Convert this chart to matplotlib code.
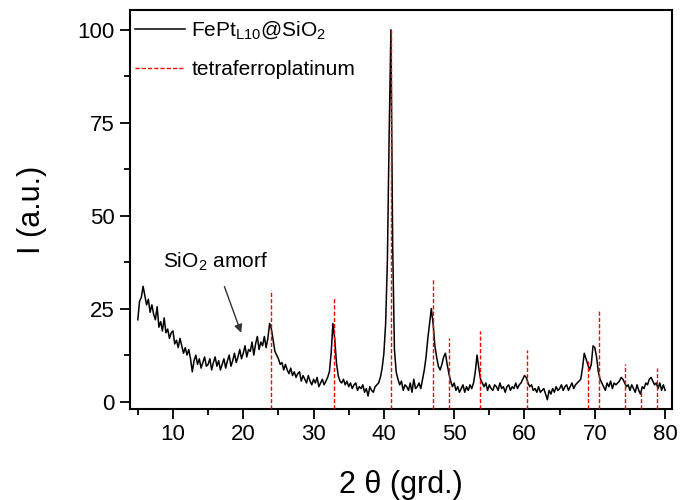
import matplotlib
matplotlib.use('Agg')
import numpy as np
import matplotlib.pyplot as plt

plt.rcParams['font.family'] = ['Liberation Sans', 'DejaVu Sans']
plt.rcParams['mathtext.fontset'] = 'custom'
plt.rcParams['mathtext.rm'] = 'Liberation Sans'

# measured pattern, 2theta from 5 to 80 deg, step 0.25
intensity = [
    # 5.0 - 23.5
    22, 27, 28, 31, 28.5, 26, 27.5, 24, 26, 23.5, 22, 25.5, 20, 21.5, 19, 22.5, 18.5, 19.5, 17, 18.5,
    19, 15.5, 16.5, 14.5, 17, 15, 13, 14.5, 12.5, 14, 11.5, 8, 11, 12.5, 10, 11.5, 9, 10.5, 12, 9.5,
    10, 11.5, 8.5, 10.5, 12, 9.5, 11, 8.5, 10, 11.5, 9, 11, 12.5, 9.5, 11, 13, 10.5, 12, 14, 11.5,
    13, 15, 12, 14, 13.5, 16, 12.5, 15.5, 17.5, 14, 16, 15, 17.5, 14.5, 17,
    # 23.75 - 24.75
    21, 19.5, 16.5, 13.5, 12.5,
    # 25.0 - 32.0
    11.5, 10, 10.5, 8.5, 10, 8.5, 7.5, 9, 7, 8, 6.5, 7.5, 8, 5.5, 7, 6, 5, 7, 5.5, 4.5,
    6, 5, 6.5, 4, 5, 6, 4.5, 5.5, 6.5,
    # 32.25 - 33.75
    8, 13, 21, 17, 10.5, 7, 5.5,
    # 34.0 - 39.25
    5, 6, 4.5, 5.5, 4, 5, 3.5, 4.5, 5, 3, 4, 3.5, 4.5, 2.5, 3.5, 1.5, 4, 3, 2.5, 4, 4.5, 5,
    # 39.5 - 42.0
    6.5, 9, 13, 21, 38, 72, 100, 42, 14, 8, 6,
    # 42.25 - 45.25
    4.5, 5.5, 3, 4.5, 4, 3, 5, 2.5, 6, 3.5, 4, 5, 3.5,
    # 45.5 - 49.75
    6, 8.5, 12, 17, 21, 25, 21, 15, 12, 9.5, 8.5, 10, 12, 13, 10, 7.5, 5.5, 4,
    # 50.0 - 52.75
    5, 3, 4, 2.5, 3.5, 4.5, 2.5, 4, 3, 4.5, 3.5, 5,
    # 53.0 - 54.0
    8, 12.5, 9, 6, 5,
    # 54.25 - 59.5
    4, 5, 3, 4.5, 3.5, 3, 4.5, 4, 3, 5, 3.5, 4, 2.5, 4, 4.5, 3, 4, 3.5, 5, 3.5, 4.5, 5,
    # 59.75 - 60.75
    6, 7, 6.5, 5, 4,
    # 61.0 - 67.25
    4.5, 3, 3.5, 2.5, 4, 2.5, 3, 3.5, 2, 0.5, 3, 2, 3.5, 2.5, 4, 3, 3.5, 4.5, 3, 4,
    4.5, 3, 4, 5, 3.5, 4.5,
    # 67.5 - 71.0
    5, 5.5, 6, 9, 13, 11.5, 10, 8.5, 10, 15, 14.5, 12, 8, 6, 5,
    # 71.25 - 73.25
    4, 3, 5, 4, 5.5, 3.5, 5, 4.5, 5,
    # 73.5 - 74.5
    5.5, 6.5, 6, 5, 4,
    # 74.75 - 77.0
    4.5, 3, 4.5, 3.5, 2.5, 4.5, 3, 2, 4, 3.5,
    # 77.25 - 78.75
    5, 4.5, 6, 6.5, 5.5, 4.5, 5,
    # 79.0 - 80.0
    3.5, 5, 3, 4.5, 3,
]
assert len(intensity) == 301
two_theta = 5.0 + 0.25 * np.arange(len(intensity))

# reference pattern (tetraferroplatinum)
ref_pos = [24.0, 32.9, 41.0, 47.0, 49.2, 53.6, 60.4, 69.0, 70.6, 74.3, 76.6, 78.8]
ref_int = [30, 28, 100, 33, 17, 19, 14, 11, 25, 10, 2.5, 9]

fig = plt.figure(figsize=(6.81, 5.0), dpi=100)
ax = fig.add_axes([0.191, 0.182, 0.796, 0.798])

ax.plot(two_theta, intensity, color='black', linewidth=1.1,
        label=r'FePt$_{\mathregular{L10}}$@SiO$_{\mathregular{2}}$')
ax.vlines(ref_pos, -2, ref_int, colors='red', linewidth=1.0,
          linestyles=(0, (3, 1.5)), label='tetraferroplatinum', zorder=3)

ax.set_xlim(3.9, 81)
ax.set_ylim(-2, 105.3)
ax.set_xticks(range(10, 81, 10))
ax.set_xticks(range(5, 81, 10), minor=True)
ax.set_yticks([0, 25, 50, 75, 100])
ax.set_yticks([12.5, 37.5, 62.5, 87.5], minor=True)
ax.tick_params(which='major', direction='out', length=7, width=1.3, labelsize=16, pad=4)
ax.tick_params(which='minor', direction='out', length=4, width=1.3)
for s in ax.spines.values():
    s.set_linewidth(1.5)

ax.set_xlabel('2 θ (grd.)', fontsize=22, labelpad=18)
ax.set_ylabel('I (a.u.)', fontsize=22, labelpad=22)

ax.annotate(r'SiO$_{\mathregular{2}}$ amorf', xy=(19.7, 18.5), xytext=(8.6, 37.5),
            fontsize=15, va='center', ha='left',
            arrowprops=dict(arrowstyle='-|>', color='#333333', lw=1.0,
                            mutation_scale=12, shrinkA=8, shrinkB=0))

ax.legend(loc='upper left', bbox_to_anchor=(0.009, 0.975), frameon=False,
          fontsize=15, handlelength=2.4, handletextpad=0.3, borderpad=0,
          borderaxespad=0, labelspacing=0.85)

plt.savefig('out.png', dpi=100)
